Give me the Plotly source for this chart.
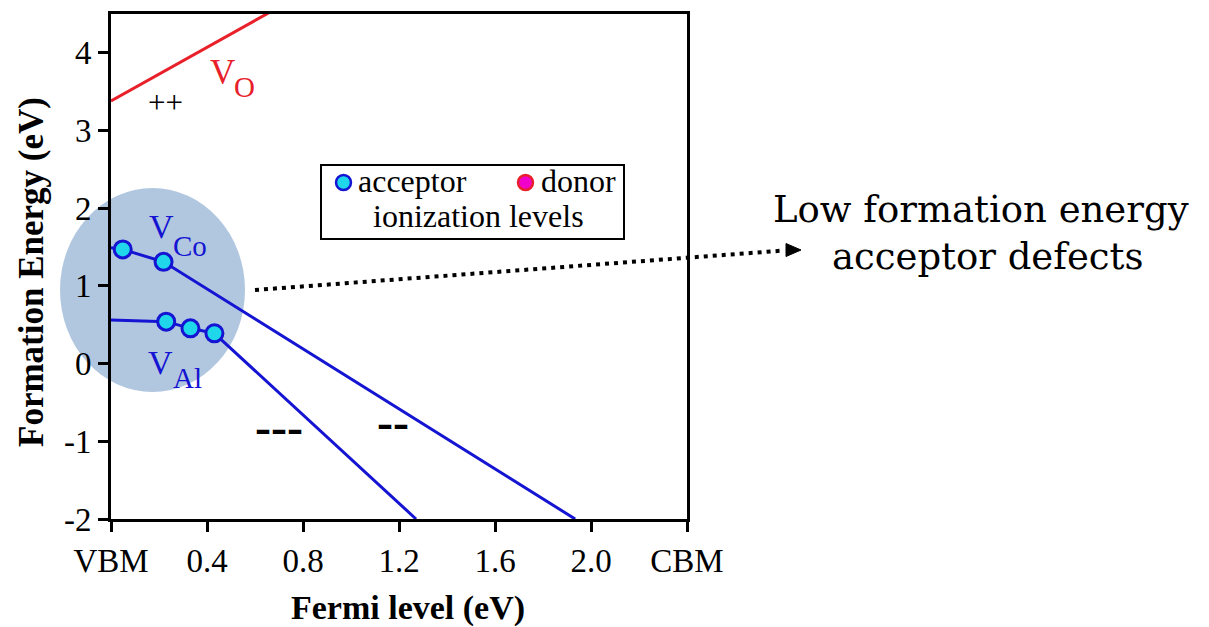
import plotly.graph_objects as go

# ---- data ----
fermi_vo = [0.0, 0.66]
energy_vo = [3.38, 4.52]

fermi_vco = [0.0, 0.049, 0.219, 1.934]
energy_vco = [1.49, 1.47, 1.31, -2.0]

fermi_val = [0.0, 0.23, 0.331, 0.431, 1.271]
energy_val = [0.561, 0.54, 0.454, 0.39, -2.0]

level_fermi_vco = [0.049, 0.219]
level_energy_vco = [1.47, 1.31]
level_fermi_val = [0.23, 0.331, 0.431]
level_energy_val = [0.54, 0.454, 0.39]

x_tickvals = [0, 0.4, 0.8, 1.2, 1.6, 2.0, 2.4]
x_ticktext = ["VBM", "0.4", "0.8", "1.2", "1.6", "2.0", "CBM"]
y_tickvals = [-2, -1, 0, 1, 2, 3, 4]
y_ticktext = ["-2", "-1", "0", "1", "2", "3", "4"]

# ---- layout geometry ----
W, H = 1209, 627
L, R, T, B = 111, 687, 14, 519


def px(x):
    return (x - L) / (R - L)


def py(y):
    return (B - y) / (B - T)


SERIF = "Liberation Serif"
BLUE = "#1414d2"
RED = "#e8202a"
CYAN = "#1fd6ea"

fig = go.Figure()

fig.add_trace(go.Scatter(x=fermi_vo, y=energy_vo, mode="lines",
                         line=dict(color=RED, width=3), showlegend=False, hoverinfo="skip"))
fig.add_trace(go.Scatter(x=fermi_vco, y=energy_vco, mode="lines",
                         line=dict(color=BLUE, width=3), showlegend=False, hoverinfo="skip"))
fig.add_trace(go.Scatter(x=fermi_val, y=energy_val, mode="lines",
                         line=dict(color=BLUE, width=3), showlegend=False, hoverinfo="skip"))
for fx, fy in [(level_fermi_vco, level_energy_vco), (level_fermi_val, level_energy_val)]:
    fig.add_trace(go.Scatter(x=fx, y=fy, mode="markers",
                             marker=dict(size=17, color=CYAN, line=dict(color=BLUE, width=3)),
                             showlegend=False, hoverinfo="skip"))

shapes = []
# highlight ellipse
shapes.append(dict(type="circle", xref="paper", yref="paper",
                   x0=px(60), x1=px(245), y0=py(392), y1=py(188),
                   fillcolor="rgba(40,100,170,0.36)", line=dict(width=0), layer="below"))
# legend box
shapes.append(dict(type="rect", xref="paper", yref="paper",
                   x0=px(321), x1=px(624), y0=py(239), y1=py(165),
                   line=dict(color="black", width=2), fillcolor="white", layer="above"))
# legend markers
shapes.append(dict(type="circle", xref="paper", yref="paper",
                   x0=px(336), x1=px(351), y0=py(190), y1=py(175),
                   fillcolor=CYAN, line=dict(color=BLUE, width=2.5), layer="above"))
shapes.append(dict(type="circle", xref="paper", yref="paper",
                   x0=px(518), x1=px(533), y0=py(190), y1=py(175),
                   fillcolor="#f000c8", line=dict(color=RED, width=2.5), layer="above"))
# dotted arrow
shapes.append(dict(type="line", xref="paper", yref="paper",
                   x0=px(255), y0=py(290), x1=px(784), y1=py(250.5),
                   line=dict(color="black", width=4, dash="4px,5px"), layer="above"))
shapes.append(dict(type="path", xref="paper", yref="paper",
                   path=f"M {px(801)},{py(250)} L {px(786)},{py(243.5)} L {px(786)},{py(256.5)} Z",
                   fillcolor="black", line=dict(color="black", width=1), layer="above"))

ann = []
# axis titles
ann.append(dict(text="Fermi level (eV)", xref="paper", yref="paper",
                x=px(408), y=py(608), xanchor="center", yanchor="middle", showarrow=False,
                font=dict(family=SERIF, size=34, color="black", weight="bold")))
ann.append(dict(text="Formation Energy (eV)", xref="paper", yref="paper",
                x=px(31), y=py(272), xanchor="center", yanchor="middle", showarrow=False,
                textangle=-90,
                font=dict(family=SERIF, size=35, color="black", weight="bold")))


def label(main, sub, x, y, sx, sy, color, size=34, subsize=29):
    ann.append(dict(text=main, x=x, y=y, xanchor="left", yanchor="middle", showarrow=False,
                    font=dict(family=SERIF, size=size, color=color)))
    ann.append(dict(text=sub, x=sx, y=sy, xanchor="left", yanchor="middle", showarrow=False,
                    font=dict(family=SERIF, size=subsize, color=color)))


# series labels (V with subscript)
label("V", "O", 0.405, 3.75, 0.505, 3.56, RED, size=35, subsize=29)
label("V", "Co", 0.150, 1.76, 0.248, 1.51, BLUE)
label("V", "Al", 0.146, 0.01, 0.250, -0.18, BLUE)

ann.append(dict(text="++", x=0.225, y=3.36, xanchor="center", yanchor="middle", showarrow=False,
                font=dict(family=SERIF, size=31, color="black")))
ann.append(dict(text="---", x=0.70, y=-0.81, xanchor="center", yanchor="middle", showarrow=False,
                font=dict(family=SERIF, size=48, color="black", weight="bold")))
ann.append(dict(text="--", x=1.175, y=-0.75, xanchor="center", yanchor="middle", showarrow=False,
                font=dict(family=SERIF, size=48, color="black", weight="bold")))
# legend texts
ann.append(dict(text="acceptor", xref="paper", yref="paper", x=px(356), y=py(181),
                xanchor="left", yanchor="middle", showarrow=False,
                font=dict(family=SERIF, size=32, color="black")))
ann.append(dict(text="donor", xref="paper", yref="paper", x=px(539), y=py(181),
                xanchor="left", yanchor="middle", showarrow=False,
                font=dict(family=SERIF, size=32, color="black")))
ann.append(dict(text="ionization levels", xref="paper", yref="paper", x=px(478), y=py(216),
                xanchor="center", yanchor="middle", showarrow=False,
                font=dict(family=SERIF, size=32, color="black")))
# right side note
ann.append(dict(text="Low formation energy", xref="paper", yref="paper", x=px(981), y=py(209),
                xanchor="center", yanchor="middle", showarrow=False,
                font=dict(family="DejaVu Serif", size=37, color="black")))
ann.append(dict(text="acceptor defects", xref="paper", yref="paper", x=px(987), y=py(256),
                xanchor="center", yanchor="middle", showarrow=False,
                font=dict(family="DejaVu Serif", size=37, color="black")))

axis_common = dict(showline=True, linecolor="black", linewidth=3, mirror=True,
                   ticks="outside", ticklen=10, tickwidth=3, tickcolor="black",
                   showgrid=False, zeroline=False,
                   tickfont=dict(family=SERIF, size=33, color="black"))

fig.update_layout(
    width=W, height=H, autosize=False,
    margin=dict(l=L, r=W - R, t=T, b=H - B, pad=0),
    paper_bgcolor="white", plot_bgcolor="white",
    xaxis=dict(range=[0, 2.4], tickvals=x_tickvals, ticktext=x_ticktext, **axis_common),
    yaxis=dict(range=[-2, 4.5], tickvals=y_tickvals, ticktext=y_ticktext, **axis_common),
    shapes=shapes, annotations=ann, showlegend=False,
)

fig.write_html("out.html")
